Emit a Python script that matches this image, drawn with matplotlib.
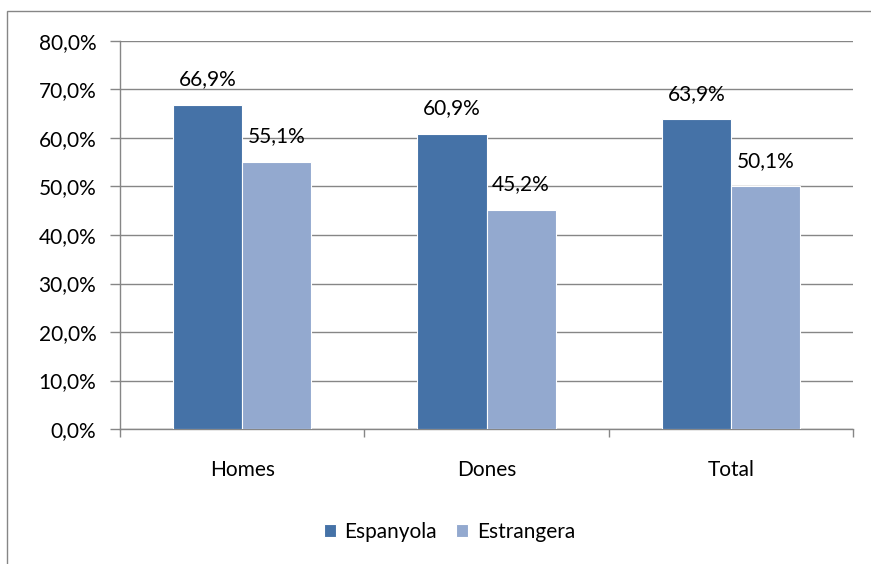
import matplotlib.pyplot as plt
import numpy as np
from matplotlib.patches import Rectangle

categories = ['Homes', 'Dones', 'Total']
espanyola = [66.9, 60.9, 63.9]
estrangera = [55.1, 45.2, 50.1]
series_names = ['Espanyola', 'Estrangera']
yticks = [0, 10, 20, 30, 40, 50, 60, 70, 80]

plt.rcParams['font.family'] = ['Lato', 'DejaVu Sans']
fs = 15

fig = plt.figure(figsize=(8.71, 5.64), dpi=100)
ax = fig.add_axes([120 / 871, 1 - 429 / 564, (853 - 120) / 871, (429 - 41) / 564])

x = np.arange(len(categories))
w = 0.283
c1 = '#4572A7'
c2 = '#93A9CF'
b1 = ax.bar(x - w / 2, espanyola, w, color=c1, edgecolor='white', linewidth=0.8, zorder=3,
            label=series_names[0])
b2 = ax.bar(x + w / 2, estrangera, w, color=c2, edgecolor='white', linewidth=0.8, zorder=3,
            label=series_names[1])

for bars, vals in ((b1, espanyola), (b2, estrangera)):
    for b, v in zip(bars, vals):
        ax.annotate(f'{v:.1f}%'.replace('.', ','), (b.get_x() + b.get_width() / 2, v),
                    xytext=(0, 11), textcoords='offset points', ha='center', va='bottom',
                    fontsize=fs, color='black')

ax.set_xlim(-0.5, 2.5)
ax.set_ylim(0, 80)
ax.set_yticks(yticks)
ax.set_yticklabels([f'{t:.1f}%'.replace('.', ',') for t in yticks], fontsize=fs)
ax.set_xticks(x)
ax.set_xticklabels(categories, fontsize=fs)
ax.set_xticks([-0.5, 0.5, 1.5, 2.5], minor=True)
ax.tick_params(axis='x', which='major', length=0, pad=22)
ax.tick_params(axis='x', which='minor', length=6, color='#868686', width=1)
ax.tick_params(axis='y', length=7, color='#868686', width=1, pad=10)
ax.yaxis.grid(True, color='#868686', linewidth=1, zorder=0)
ax.set_axisbelow(True)
for s in ['top', 'right']:
    ax.spines[s].set_visible(False)
for s in ['left', 'bottom']:
    ax.spines[s].set_color('#868686')
    ax.spines[s].set_linewidth(1)

leg = fig.legend(handles=[b1, b2], loc='center', bbox_to_anchor=(0.516, 1 - 532 / 564),
                 ncol=2, frameon=False, fontsize=fs, handlelength=0.6, handleheight=0.6,
                 handletextpad=0.4, columnspacing=0.9)

fig.patches.append(Rectangle((7 / 871, -0.1), 1.2, 1 - 11 / 564 + 0.1, transform=fig.transFigure,
                             fill=False, edgecolor='#868686', linewidth=1))

fig.savefig('out.png', dpi=100)
